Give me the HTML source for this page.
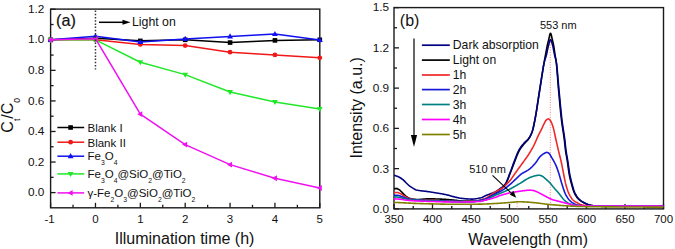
<!DOCTYPE html>
<html><head><meta charset="utf-8"><style>
html,body{margin:0;padding:0;background:#fff;}
svg{display:block;}
text{font-family:"Liberation Sans", sans-serif;fill:#111;}
.b{stroke:#111;stroke-width:0.2px;}
</style></head><body>
<svg width="675" height="249" viewBox="0 0 675 249">
<rect width="675" height="249" fill="#fff"/>
<rect x="50.6" y="9.1" width="269.20" height="198.70" fill="none" stroke="#1a1a1a" stroke-width="1.4"/>
<rect x="394.0" y="7.6" width="269.50" height="201.30" fill="none" stroke="#1a1a1a" stroke-width="1.4"/>
<line x1="50.60" y1="207.8" x2="50.60" y2="202.8" stroke="#1a1a1a" stroke-width="1.3"/>
<text x="49.60" y="222.60" font-size="11.5" text-anchor="middle" >-1</text>
<line x1="95.47" y1="207.8" x2="95.47" y2="202.8" stroke="#1a1a1a" stroke-width="1.3"/>
<text x="95.47" y="222.60" font-size="11.5" text-anchor="middle" >0</text>
<line x1="140.33" y1="207.8" x2="140.33" y2="202.8" stroke="#1a1a1a" stroke-width="1.3"/>
<text x="140.33" y="222.60" font-size="11.5" text-anchor="middle" >1</text>
<line x1="185.20" y1="207.8" x2="185.20" y2="202.8" stroke="#1a1a1a" stroke-width="1.3"/>
<text x="185.20" y="222.60" font-size="11.5" text-anchor="middle" >2</text>
<line x1="230.07" y1="207.8" x2="230.07" y2="202.8" stroke="#1a1a1a" stroke-width="1.3"/>
<text x="230.07" y="222.60" font-size="11.5" text-anchor="middle" >3</text>
<line x1="274.93" y1="207.8" x2="274.93" y2="202.8" stroke="#1a1a1a" stroke-width="1.3"/>
<text x="274.93" y="222.60" font-size="11.5" text-anchor="middle" >4</text>
<line x1="319.80" y1="207.8" x2="319.80" y2="202.8" stroke="#1a1a1a" stroke-width="1.3"/>
<text x="319.80" y="222.60" font-size="11.5" text-anchor="middle" >5</text>
<line x1="73.03" y1="207.8" x2="73.03" y2="204.8" stroke="#1a1a1a" stroke-width="1.3"/>
<line x1="117.90" y1="207.8" x2="117.90" y2="204.8" stroke="#1a1a1a" stroke-width="1.3"/>
<line x1="162.77" y1="207.8" x2="162.77" y2="204.8" stroke="#1a1a1a" stroke-width="1.3"/>
<line x1="207.63" y1="207.8" x2="207.63" y2="204.8" stroke="#1a1a1a" stroke-width="1.3"/>
<line x1="252.50" y1="207.8" x2="252.50" y2="204.8" stroke="#1a1a1a" stroke-width="1.3"/>
<line x1="297.37" y1="207.8" x2="297.37" y2="204.8" stroke="#1a1a1a" stroke-width="1.3"/>
<line x1="50.6" y1="192.60" x2="55.6" y2="192.60" stroke="#1a1a1a" stroke-width="1.3"/>
<text x="44.40" y="196.20" font-size="11.8" text-anchor="end" >0.0</text>
<line x1="50.6" y1="162.04" x2="55.6" y2="162.04" stroke="#1a1a1a" stroke-width="1.3"/>
<text x="44.40" y="165.64" font-size="11.8" text-anchor="end" >0.2</text>
<line x1="50.6" y1="131.48" x2="55.6" y2="131.48" stroke="#1a1a1a" stroke-width="1.3"/>
<text x="44.40" y="135.08" font-size="11.8" text-anchor="end" >0.4</text>
<line x1="50.6" y1="100.92" x2="55.6" y2="100.92" stroke="#1a1a1a" stroke-width="1.3"/>
<text x="44.40" y="104.52" font-size="11.8" text-anchor="end" >0.6</text>
<line x1="50.6" y1="70.36" x2="55.6" y2="70.36" stroke="#1a1a1a" stroke-width="1.3"/>
<text x="44.40" y="73.96" font-size="11.8" text-anchor="end" >0.8</text>
<line x1="50.6" y1="39.80" x2="55.6" y2="39.80" stroke="#1a1a1a" stroke-width="1.3"/>
<text x="44.40" y="43.40" font-size="11.8" text-anchor="end" >1.0</text>
<line x1="50.6" y1="9.24" x2="55.6" y2="9.24" stroke="#1a1a1a" stroke-width="1.3"/>
<text x="44.40" y="12.84" font-size="11.8" text-anchor="end" >1.2</text>
<line x1="50.6" y1="177.32" x2="53.6" y2="177.32" stroke="#1a1a1a" stroke-width="1.3"/>
<line x1="50.6" y1="146.76" x2="53.6" y2="146.76" stroke="#1a1a1a" stroke-width="1.3"/>
<line x1="50.6" y1="116.20" x2="53.6" y2="116.20" stroke="#1a1a1a" stroke-width="1.3"/>
<line x1="50.6" y1="85.64" x2="53.6" y2="85.64" stroke="#1a1a1a" stroke-width="1.3"/>
<line x1="50.6" y1="55.08" x2="53.6" y2="55.08" stroke="#1a1a1a" stroke-width="1.3"/>
<line x1="50.6" y1="24.52" x2="53.6" y2="24.52" stroke="#1a1a1a" stroke-width="1.3"/>
<line x1="394.00" y1="208.9" x2="394.00" y2="203.9" stroke="#1a1a1a" stroke-width="1.3"/>
<text x="394.00" y="222.60" font-size="11.5" text-anchor="middle" >350</text>
<line x1="432.50" y1="208.9" x2="432.50" y2="203.9" stroke="#1a1a1a" stroke-width="1.3"/>
<text x="432.50" y="222.60" font-size="11.5" text-anchor="middle" >400</text>
<line x1="471.00" y1="208.9" x2="471.00" y2="203.9" stroke="#1a1a1a" stroke-width="1.3"/>
<text x="471.00" y="222.60" font-size="11.5" text-anchor="middle" >450</text>
<line x1="509.50" y1="208.9" x2="509.50" y2="203.9" stroke="#1a1a1a" stroke-width="1.3"/>
<text x="509.50" y="222.60" font-size="11.5" text-anchor="middle" >500</text>
<line x1="548.00" y1="208.9" x2="548.00" y2="203.9" stroke="#1a1a1a" stroke-width="1.3"/>
<text x="548.00" y="222.60" font-size="11.5" text-anchor="middle" >550</text>
<line x1="586.50" y1="208.9" x2="586.50" y2="203.9" stroke="#1a1a1a" stroke-width="1.3"/>
<text x="586.50" y="222.60" font-size="11.5" text-anchor="middle" >600</text>
<line x1="625.00" y1="208.9" x2="625.00" y2="203.9" stroke="#1a1a1a" stroke-width="1.3"/>
<text x="625.00" y="222.60" font-size="11.5" text-anchor="middle" >650</text>
<line x1="663.50" y1="208.9" x2="663.50" y2="203.9" stroke="#1a1a1a" stroke-width="1.3"/>
<text x="663.50" y="222.60" font-size="11.5" text-anchor="middle" >700</text>
<line x1="413.25" y1="208.9" x2="413.25" y2="205.9" stroke="#1a1a1a" stroke-width="1.3"/>
<line x1="451.75" y1="208.9" x2="451.75" y2="205.9" stroke="#1a1a1a" stroke-width="1.3"/>
<line x1="490.25" y1="208.9" x2="490.25" y2="205.9" stroke="#1a1a1a" stroke-width="1.3"/>
<line x1="528.75" y1="208.9" x2="528.75" y2="205.9" stroke="#1a1a1a" stroke-width="1.3"/>
<line x1="567.25" y1="208.9" x2="567.25" y2="205.9" stroke="#1a1a1a" stroke-width="1.3"/>
<line x1="605.75" y1="208.9" x2="605.75" y2="205.9" stroke="#1a1a1a" stroke-width="1.3"/>
<line x1="644.25" y1="208.9" x2="644.25" y2="205.9" stroke="#1a1a1a" stroke-width="1.3"/>
<line x1="394.0" y1="208.90" x2="399.0" y2="208.90" stroke="#1a1a1a" stroke-width="1.3"/>
<text x="389.20" y="213.00" font-size="11.8" text-anchor="end" >0.0</text>
<line x1="394.0" y1="168.64" x2="399.0" y2="168.64" stroke="#1a1a1a" stroke-width="1.3"/>
<text x="389.20" y="172.74" font-size="11.8" text-anchor="end" >0.3</text>
<line x1="394.0" y1="128.38" x2="399.0" y2="128.38" stroke="#1a1a1a" stroke-width="1.3"/>
<text x="389.20" y="132.48" font-size="11.8" text-anchor="end" >0.6</text>
<line x1="394.0" y1="88.12" x2="399.0" y2="88.12" stroke="#1a1a1a" stroke-width="1.3"/>
<text x="389.20" y="92.22" font-size="11.8" text-anchor="end" >0.9</text>
<line x1="394.0" y1="47.86" x2="399.0" y2="47.86" stroke="#1a1a1a" stroke-width="1.3"/>
<text x="389.20" y="51.96" font-size="11.8" text-anchor="end" >1.2</text>
<line x1="394.0" y1="7.60" x2="399.0" y2="7.60" stroke="#1a1a1a" stroke-width="1.3"/>
<text x="389.20" y="10.60" font-size="11.8" text-anchor="end" >1.5</text>
<line x1="394.0" y1="188.77" x2="397.0" y2="188.77" stroke="#1a1a1a" stroke-width="1.3"/>
<line x1="394.0" y1="148.51" x2="397.0" y2="148.51" stroke="#1a1a1a" stroke-width="1.3"/>
<line x1="394.0" y1="108.25" x2="397.0" y2="108.25" stroke="#1a1a1a" stroke-width="1.3"/>
<line x1="394.0" y1="67.99" x2="397.0" y2="67.99" stroke="#1a1a1a" stroke-width="1.3"/>
<line x1="394.0" y1="27.73" x2="397.0" y2="27.73" stroke="#1a1a1a" stroke-width="1.3"/>
<text x="184.60" y="243.80" font-size="16" text-anchor="middle" >Illumination time (h)</text>
<text x="528.20" y="244.80" font-size="15.8" text-anchor="middle" >Wavelength (nm)</text>
<text transform="translate(362.4,107.8) rotate(-90)" font-size="16" text-anchor="middle">Intensity (a.u.)</text>
<text transform="translate(13.2,115.3) rotate(-90)" font-size="16" text-anchor="middle">C<tspan font-size="8.5" dy="6.6">t</tspan><tspan dy="-6.6">/C</tspan><tspan font-size="8.5" dy="6.6">0</tspan></text>
<text x="56.10" y="26.40" font-size="16.2" text-anchor="start" class="b">(a)</text>
<text x="399.80" y="26.20" font-size="16" text-anchor="start" >(b)</text>
<clipPath id="cl"><rect x="50.6" y="9.1" width="269.2" height="198.70000000000002"/></clipPath>
<polyline points="50.60,39.80 95.47,38.27 140.33,40.87 185.20,39.80 230.07,42.55 274.93,40.41 319.80,39.80" fill="none" stroke="#000000" stroke-width="1.5" stroke-linejoin="round"/>
<rect x="48.30" y="37.50" width="4.60" height="4.60" fill="#000000"/>
<rect x="93.17" y="35.97" width="4.60" height="4.60" fill="#000000"/>
<rect x="138.03" y="38.57" width="4.60" height="4.60" fill="#000000"/>
<rect x="182.90" y="37.50" width="4.60" height="4.60" fill="#000000"/>
<rect x="227.77" y="40.25" width="4.60" height="4.60" fill="#000000"/>
<rect x="272.63" y="38.11" width="4.60" height="4.60" fill="#000000"/>
<rect x="317.50" y="37.50" width="4.60" height="4.60" fill="#000000"/>
<polyline points="50.60,39.80 95.47,39.80 140.33,44.38 185.20,45.61 230.07,52.18 274.93,54.93 319.80,57.83" fill="none" stroke="#f01818" stroke-width="1.5" stroke-linejoin="round"/>
<circle cx="50.60" cy="39.80" r="2.40" fill="#f01818"/>
<circle cx="95.47" cy="39.80" r="2.40" fill="#f01818"/>
<circle cx="140.33" cy="44.38" r="2.40" fill="#f01818"/>
<circle cx="185.20" cy="45.61" r="2.40" fill="#f01818"/>
<circle cx="230.07" cy="52.18" r="2.40" fill="#f01818"/>
<circle cx="274.93" cy="54.93" r="2.40" fill="#f01818"/>
<circle cx="319.80" cy="57.83" r="2.40" fill="#f01818"/>
<polyline points="50.60,39.80 95.47,36.29 140.33,42.09 185.20,38.88 230.07,36.44 274.93,33.99 319.80,40.11" fill="none" stroke="#1010f0" stroke-width="1.5" stroke-linejoin="round"/>
<path d="M50.60,36.70 L53.50,41.80 L47.70,41.80Z" fill="#1010f0"/>
<path d="M95.47,33.19 L98.37,38.29 L92.57,38.29Z" fill="#1010f0"/>
<path d="M140.33,38.99 L143.23,44.09 L137.43,44.09Z" fill="#1010f0"/>
<path d="M185.20,35.78 L188.10,40.88 L182.30,40.88Z" fill="#1010f0"/>
<path d="M230.07,33.34 L232.97,38.44 L227.17,38.44Z" fill="#1010f0"/>
<path d="M274.93,30.89 L277.83,35.99 L272.03,35.99Z" fill="#1010f0"/>
<path d="M319.80,37.01 L322.70,42.11 L316.90,42.11Z" fill="#1010f0"/>
<polyline points="50.60,39.80 95.47,39.80 140.33,62.26 185.20,74.64 230.07,92.06 274.93,101.99 319.80,109.02" fill="none" stroke="#20e828" stroke-width="1.5" stroke-linejoin="round"/>
<path d="M50.60,42.90 L53.50,37.80 L47.70,37.80Z" fill="#20e828"/>
<path d="M95.47,42.90 L98.37,37.80 L92.57,37.80Z" fill="#20e828"/>
<path d="M140.33,65.36 L143.23,60.26 L137.43,60.26Z" fill="#20e828"/>
<path d="M185.20,77.74 L188.10,72.64 L182.30,72.64Z" fill="#20e828"/>
<path d="M230.07,95.16 L232.97,90.06 L227.17,90.06Z" fill="#20e828"/>
<path d="M274.93,105.09 L277.83,99.99 L272.03,99.99Z" fill="#20e828"/>
<path d="M319.80,112.12 L322.70,107.02 L316.90,107.02Z" fill="#20e828"/>
<polyline points="50.60,39.80 95.47,38.73 140.33,114.21 185.20,144.62 230.07,164.64 274.93,178.24 319.80,188.02" fill="none" stroke="#f010f0" stroke-width="1.5" stroke-linejoin="round"/>
<path d="M47.50,39.80 L52.60,36.90 L52.60,42.70Z" fill="#f010f0"/>
<path d="M92.37,38.73 L97.47,35.83 L97.47,41.63Z" fill="#f010f0"/>
<path d="M137.23,114.21 L142.33,111.31 L142.33,117.11Z" fill="#f010f0"/>
<path d="M182.10,144.62 L187.20,141.72 L187.20,147.52Z" fill="#f010f0"/>
<path d="M226.97,164.64 L232.07,161.74 L232.07,167.54Z" fill="#f010f0"/>
<path d="M271.83,178.24 L276.93,175.34 L276.93,181.14Z" fill="#f010f0"/>
<path d="M316.70,188.02 L321.80,185.12 L321.80,190.92Z" fill="#f010f0"/>
<line x1="95.47" y1="10.6" x2="95.47" y2="69.5" stroke="#333" stroke-width="1.5" stroke-dasharray="1.5 1.7"/>
<line x1="99" y1="22.3" x2="124" y2="22.3" stroke="#000" stroke-width="1.5"/>
<path d="M130.5,22.3 L122.5,19.8 L122.5,24.8Z" fill="#000"/>
<text x="132.00" y="25.60" font-size="12.3" text-anchor="start" >Light on</text>
<line x1="57.4" y1="127.5" x2="84.2" y2="127.5" stroke="#000000" stroke-width="1.5"/>
<rect x="68.30" y="125.20" width="4.60" height="4.60" fill="#000000"/>
<line x1="57.4" y1="142.2" x2="84.2" y2="142.2" stroke="#f01818" stroke-width="1.5"/>
<circle cx="70.60" cy="142.20" r="2.40" fill="#f01818"/>
<line x1="57.4" y1="156.2" x2="84.2" y2="156.2" stroke="#1010f0" stroke-width="1.5"/>
<path d="M70.60,153.10 L73.50,158.20 L67.70,158.20Z" fill="#1010f0"/>
<line x1="57.4" y1="173.9" x2="84.2" y2="173.9" stroke="#20e828" stroke-width="1.5"/>
<path d="M70.60,177.00 L73.50,171.90 L67.70,171.90Z" fill="#20e828"/>
<line x1="57.4" y1="192.9" x2="84.2" y2="192.9" stroke="#f010f0" stroke-width="1.5"/>
<path d="M67.50,192.90 L72.60,190.00 L72.60,195.80Z" fill="#f010f0"/>
<text x="87.50" y="131.90" font-size="11.5" text-anchor="start" >Blank I</text>
<text x="87.50" y="146.60" font-size="11.5" text-anchor="start" >Blank II</text>
<text x="87.5" y="160.4" font-size="11.5">Fe<tspan font-size="6.8" dy="4.6">3</tspan><tspan dy="-4.6">O</tspan><tspan font-size="6.8" dy="4.6">4</tspan></text>
<text x="87.5" y="178.1" font-size="11.5">Fe<tspan font-size="6.8" dy="4.6">3</tspan><tspan dy="-4.6">O</tspan><tspan font-size="6.8" dy="4.6">4</tspan><tspan dy="-4.6">@SiO</tspan><tspan font-size="6.8" dy="4.6">2</tspan><tspan dy="-4.6">@TiO</tspan><tspan font-size="6.8" dy="4.6">2</tspan></text>
<text x="87.5" y="197.1" font-size="11.5">γ-Fe<tspan font-size="6.8" dy="4.6">2</tspan><tspan dy="-4.6">O</tspan><tspan font-size="6.8" dy="4.6">3</tspan><tspan dy="-4.6">@SiO</tspan><tspan font-size="6.8" dy="4.6">2</tspan><tspan dy="-4.6">@TiO</tspan><tspan font-size="6.8" dy="4.6">2</tspan></text>
<clipPath id="cr"><rect x="394.0" y="7.6" width="269.5" height="201.3"/></clipPath>
<g clip-path="url(#cr)">
<line x1="550.31" y1="34.44" x2="550.31" y2="208.9" stroke="#ff7070" stroke-width="0.9" stroke-dasharray="1 1.5"/>
<line x1="517.20" y1="200.85" x2="517.20" y2="208.9" stroke="#ff7070" stroke-width="0.9" stroke-dasharray="1 1.5"/>
<path d="M394.00,188.82 L394.77,188.57 L395.54,188.45 L396.31,188.42 L397.08,188.56 L397.85,188.91 L398.62,189.39 L399.39,189.89 L400.16,190.48 L400.93,191.23 L401.70,192.04 L402.47,192.83 L403.24,193.61 L404.01,194.43 L404.78,195.21 L405.55,195.89 L406.32,196.49 L407.09,197.05 L407.86,197.53 L408.63,197.90 L409.40,198.17 L410.17,198.42 L410.94,198.63 L411.71,198.81 L412.48,198.97 L413.25,199.10 L414.02,199.21 L414.79,199.32 L415.56,199.41 L416.33,199.47 L417.10,199.50 L417.87,199.49 L418.64,199.46 L419.41,199.43 L420.18,199.38 L420.95,199.32 L421.72,199.26 L422.49,199.20 L423.26,199.13 L424.03,199.06 L424.80,199.00 L425.57,198.95 L426.34,198.90 L427.11,198.86 L427.88,198.84 L428.65,198.83 L429.42,198.83 L430.19,198.84 L430.96,198.84 L431.73,198.85 L432.50,198.87 L433.27,198.88 L434.04,198.90 L434.81,198.92 L435.58,198.94 L436.35,198.97 L437.12,198.99 L437.89,199.02 L438.66,199.04 L439.43,199.07 L440.20,199.10 L440.97,199.13 L441.74,199.16 L442.51,199.20 L443.28,199.25 L444.05,199.29 L444.82,199.35 L445.59,199.40 L446.36,199.46 L447.13,199.52 L447.90,199.58 L448.67,199.65 L449.44,199.71 L450.21,199.77 L450.98,199.83 L451.75,199.90 L452.52,199.96 L453.29,200.04 L454.06,200.12 L454.83,200.21 L455.60,200.31 L456.37,200.40 L457.14,200.50 L457.91,200.59 L458.68,200.68 L459.45,200.75 L460.22,200.82 L460.99,200.88 L461.76,200.93 L462.53,200.95 L463.30,200.96 L464.07,200.96 L464.84,200.96 L465.61,200.96 L466.38,200.96 L467.15,200.96 L467.92,200.96 L468.69,200.96 L469.46,200.96 L470.23,200.96 L471.00,200.96 L471.77,200.96 L472.54,200.96 L473.31,200.96 L474.08,200.96 L474.85,200.96 L475.62,200.94 L476.39,200.88 L477.16,200.79 L477.93,200.67 L478.70,200.53 L479.47,200.37 L480.24,200.19 L481.01,200.01 L481.78,199.82 L482.55,199.63 L483.32,199.43 L484.09,199.20 L484.86,198.94 L485.63,198.66 L486.40,198.35 L487.17,198.02 L487.94,197.68 L488.71,197.32 L489.48,196.95 L490.25,196.56 L491.02,196.15 L491.79,195.70 L492.56,195.22 L493.33,194.71 L494.10,194.17 L494.87,193.61 L495.64,193.03 L496.41,192.44 L497.18,191.83 L497.95,191.22 L498.72,190.63 L499.49,190.04 L500.26,189.45 L501.03,188.84 L501.80,188.19 L502.19,187.85 L502.57,187.50 L502.95,187.13 L503.34,186.74 L503.73,186.33 L504.11,185.90 L504.50,185.44 L504.88,184.96 L505.26,184.45 L505.65,183.87 L506.03,183.19 L506.42,182.45 L506.81,181.63 L507.19,180.76 L507.57,179.84 L507.96,178.89 L508.35,177.91 L508.73,176.91 L509.12,175.90 L509.50,174.89 L509.88,173.90 L510.27,172.93 L510.65,171.98 L511.04,171.00 L511.43,170.00 L511.81,168.99 L512.19,167.96 L512.58,166.92 L512.97,165.89 L513.35,164.86 L513.74,163.85 L514.12,162.85 L514.50,161.88 L514.89,160.91 L515.27,159.92 L515.66,158.92 L516.04,157.92 L516.43,156.93 L516.82,155.95 L517.20,155.00 L517.59,154.07 L517.97,153.18 L518.36,152.34 L518.74,151.54 L519.12,150.81 L519.51,150.14 L519.89,149.51 L520.28,148.91 L520.66,148.33 L521.05,147.78 L521.43,147.25 L521.82,146.74 L522.21,146.25 L522.59,145.76 L522.98,145.28 L523.36,144.81 L523.75,144.34 L524.13,143.87 L524.51,143.41 L524.90,142.98 L525.28,142.58 L525.67,142.19 L526.06,141.80 L526.44,141.42 L526.83,141.04 L527.21,140.63 L527.60,140.21 L527.98,139.76 L528.37,139.28 L528.75,138.76 L529.13,138.18 L529.52,137.57 L529.90,136.91 L530.29,136.20 L530.67,135.42 L531.06,134.59 L531.44,133.68 L531.83,132.70 L532.22,131.64 L532.60,130.39 L532.99,128.94 L533.37,127.32 L533.75,125.56 L534.14,123.71 L534.52,121.80 L534.91,119.86 L535.29,117.84 L535.68,115.68 L536.07,113.40 L536.45,111.02 L536.84,108.57 L537.22,106.05 L537.61,103.49 L537.99,100.92 L538.38,98.34 L538.76,95.78 L539.14,93.26 L539.53,90.80 L539.91,88.40 L540.30,85.99 L540.68,83.57 L541.07,81.15 L541.46,78.72 L541.84,76.30 L542.23,73.90 L542.61,71.51 L543.00,69.15 L543.38,66.83 L543.76,64.54 L544.15,62.29 L544.53,60.09 L544.92,58.00 L545.31,55.96 L545.69,53.85 L546.08,51.71 L546.46,49.59 L546.85,47.56 L547.23,45.69 L547.62,43.97 L548.00,42.37 L548.38,40.84 L548.77,39.33 L549.15,37.57 L549.54,35.80 L549.92,34.30 L550.31,33.41 L550.69,33.40 L551.08,34.29 L551.47,35.77 L551.85,37.54 L552.24,39.31 L552.62,40.86 L553.00,42.44 L553.39,44.15 L553.77,46.10 L554.16,48.52 L554.54,51.26 L554.93,53.99 L555.32,56.39 L555.70,58.31 L556.09,60.65 L556.47,64.02 L556.86,68.23 L557.24,72.98 L557.62,78.02 L558.01,83.07 L558.39,87.87 L558.78,92.20 L559.16,96.45 L559.55,100.69 L559.93,104.87 L560.32,108.94 L560.71,112.83 L561.09,116.49 L561.48,119.86 L561.86,122.89 L562.25,125.63 L562.63,128.19 L563.01,130.66 L563.40,133.13 L563.78,135.70 L564.17,138.47 L564.56,141.58 L564.94,145.22 L565.33,148.78 L565.71,151.63 L566.10,154.04 L566.48,156.23 L566.87,158.38 L567.25,160.64 L567.63,163.18 L568.02,166.02 L568.40,168.92 L568.79,171.67 L569.17,174.02 L569.56,175.99 L569.94,177.81 L570.33,179.47 L570.72,181.03 L571.10,182.49 L571.49,183.90 L571.87,185.28 L572.25,186.64 L572.64,187.95 L573.02,189.21 L573.41,190.40 L573.79,191.49 L574.18,192.48 L574.57,193.34 L574.95,194.09 L575.34,194.79 L575.72,195.45 L576.11,196.07 L576.49,196.65 L576.88,197.18 L577.26,197.68 L577.64,198.14 L578.03,198.57 L578.41,198.96 L578.80,199.33 L579.18,199.68 L579.57,200.01 L579.96,200.33 L580.34,200.62 L580.73,200.91 L581.11,201.18 L581.50,201.43 L581.88,201.68 L582.26,201.91 L582.65,202.13 L583.03,202.35 L583.42,202.55 L583.81,202.76 L584.19,202.95 L584.58,203.15 L584.96,203.34 L585.35,203.52 L585.73,203.69 L586.12,203.86 L586.50,204.02 L588.04,204.58 L589.58,204.98 L591.12,205.31 L592.66,205.58 L594.20,205.74 L595.74,205.80 L597.28,205.85 L598.82,205.89 L600.36,205.93 L601.90,205.95 L603.44,205.98 L604.98,206.00 L606.52,206.01 L608.06,206.02 L609.60,206.03 L611.14,206.04 L612.68,206.05 L614.22,206.05 L615.76,206.06 L617.30,206.07 L618.84,206.07 L620.38,206.08 L621.92,206.09 L623.46,206.09 L625.00,206.10 L626.54,206.10 L628.08,206.11 L629.62,206.11 L631.16,206.12 L632.70,206.12 L634.24,206.13 L635.78,206.13 L637.32,206.14 L638.86,206.14 L640.40,206.14 L641.94,206.15 L643.48,206.15 L645.02,206.15 L646.56,206.15 L648.10,206.16 L649.64,206.16 L651.18,206.16 L652.72,206.16 L654.26,206.16 L655.80,206.16 L657.34,206.16 L658.88,206.16 L660.42,206.17 L661.96,206.17 L663.50,206.17" fill="none" stroke="#000000" stroke-width="1.6" stroke-linejoin="round"/>
<path d="M394.00,175.22 L394.77,175.42 L395.54,175.66 L396.31,175.93 L397.08,176.22 L397.85,176.54 L398.62,176.91 L399.39,177.31 L400.16,177.75 L400.93,178.22 L401.70,178.76 L402.47,179.34 L403.24,179.96 L404.01,180.63 L404.78,181.39 L405.55,182.21 L406.32,183.02 L407.09,183.76 L407.86,184.48 L408.63,185.16 L409.40,185.81 L410.17,186.40 L410.94,186.95 L411.71,187.45 L412.48,187.93 L413.25,188.38 L414.02,188.83 L414.79,189.28 L415.56,189.68 L416.33,189.98 L417.10,190.17 L417.87,190.33 L418.64,190.46 L419.41,190.57 L420.18,190.68 L420.95,190.77 L421.72,190.87 L422.49,190.96 L423.26,191.05 L424.03,191.13 L424.80,191.21 L425.57,191.29 L426.34,191.39 L427.11,191.49 L427.88,191.60 L428.65,191.71 L429.42,191.82 L430.19,191.94 L430.96,192.06 L431.73,192.19 L432.50,192.31 L433.27,192.43 L434.04,192.56 L434.81,192.68 L435.58,192.81 L436.35,192.93 L437.12,193.05 L437.89,193.18 L438.66,193.31 L439.43,193.43 L440.20,193.56 L440.97,193.70 L441.74,193.83 L442.51,193.97 L443.28,194.12 L444.05,194.27 L444.82,194.42 L445.59,194.58 L446.36,194.74 L447.13,194.93 L447.90,195.13 L448.67,195.34 L449.44,195.56 L450.21,195.78 L450.98,196.01 L451.75,196.23 L452.52,196.44 L453.29,196.64 L454.06,196.83 L454.83,197.01 L455.60,197.19 L456.37,197.37 L457.14,197.55 L457.91,197.72 L458.68,197.88 L459.45,198.04 L460.22,198.17 L460.99,198.29 L461.76,198.39 L462.53,198.48 L463.30,198.56 L464.07,198.63 L464.84,198.71 L465.61,198.78 L466.38,198.85 L467.15,198.91 L467.92,198.96 L468.69,199.01 L469.46,199.04 L470.23,199.07 L471.00,199.09 L471.77,199.10 L472.54,199.08 L473.31,199.05 L474.08,198.99 L474.85,198.91 L475.62,198.81 L476.39,198.69 L477.16,198.56 L477.93,198.42 L478.70,198.26 L479.47,198.09 L480.24,197.91 L481.01,197.72 L481.78,197.51 L482.55,197.20 L483.32,196.81 L484.09,196.39 L484.86,196.00 L485.63,195.66 L486.40,195.35 L487.17,195.04 L487.94,194.74 L488.71,194.44 L489.48,194.14 L490.25,193.83 L491.02,193.54 L491.79,193.25 L492.56,192.97 L493.33,192.67 L494.10,192.36 L494.87,192.01 L495.64,191.61 L496.41,191.16 L497.18,190.67 L497.95,190.14 L498.72,189.59 L499.49,189.02 L500.26,188.44 L501.03,187.88 L501.80,187.32 L502.19,187.04 L502.57,186.74 L502.95,186.43 L503.34,186.10 L503.73,185.75 L504.11,185.37 L504.50,184.97 L504.88,184.53 L505.26,184.06 L505.65,183.49 L506.03,182.84 L506.42,182.09 L506.81,181.27 L507.19,180.38 L507.57,179.44 L507.96,178.46 L508.35,177.44 L508.73,176.40 L509.12,175.36 L509.50,174.31 L509.88,173.28 L510.27,172.28 L510.65,171.29 L511.04,170.27 L511.43,169.21 L511.81,168.14 L512.19,167.05 L512.58,165.95 L512.97,164.86 L513.35,163.77 L513.74,162.71 L514.12,161.67 L514.50,160.68 L514.89,159.69 L515.27,158.70 L515.66,157.70 L516.04,156.71 L516.43,155.72 L516.82,154.76 L517.20,153.82 L517.59,152.91 L517.97,152.04 L518.36,151.22 L518.74,150.45 L519.12,149.74 L519.51,149.09 L519.89,148.47 L520.28,147.89 L520.66,147.33 L521.05,146.80 L521.43,146.29 L521.82,145.80 L522.21,145.32 L522.59,144.86 L522.98,144.41 L523.36,143.96 L523.75,143.51 L524.13,143.07 L524.51,142.64 L524.90,142.24 L525.28,141.86 L525.67,141.51 L526.06,141.15 L526.44,140.81 L526.83,140.45 L527.21,140.08 L527.60,139.70 L527.98,139.28 L528.37,138.83 L528.75,138.34 L529.13,137.80 L529.52,137.22 L529.90,136.59 L530.29,135.91 L530.67,135.17 L531.06,134.37 L531.44,133.49 L531.83,132.54 L532.22,131.51 L532.60,130.29 L532.99,128.86 L533.37,127.25 L533.75,125.51 L534.14,123.68 L534.52,121.78 L534.91,119.86 L535.29,117.86 L535.68,115.73 L536.07,113.48 L536.45,111.13 L536.84,108.70 L537.22,106.21 L537.61,103.69 L537.99,101.15 L538.38,98.61 L538.76,96.09 L539.14,93.61 L539.53,91.19 L539.91,88.81 L540.30,86.36 L540.68,83.85 L541.07,81.29 L541.46,78.73 L541.84,76.18 L542.23,73.68 L542.61,71.25 L543.00,68.92 L543.38,66.72 L543.76,64.67 L544.15,62.81 L544.53,61.16 L544.92,59.78 L545.31,58.61 L545.69,57.48 L546.08,56.24 L546.46,54.73 L546.85,53.00 L547.23,51.16 L547.62,49.30 L548.00,47.54 L548.38,45.97 L548.77,44.51 L549.15,42.96 L549.54,41.50 L549.92,40.33 L550.31,39.64 L550.69,39.63 L551.08,40.20 L551.47,41.21 L551.85,42.51 L552.24,43.95 L552.62,45.41 L553.00,46.93 L553.39,48.80 L553.77,50.86 L554.16,52.96 L554.54,54.92 L554.93,56.57 L555.32,57.89 L555.70,59.17 L556.09,60.77 L556.47,63.09 L556.86,66.30 L557.24,70.18 L557.62,74.52 L558.01,79.10 L558.39,83.68 L558.78,88.07 L559.16,92.09 L559.55,96.11 L559.93,100.19 L560.32,104.27 L560.71,108.28 L561.09,112.15 L561.48,115.82 L561.86,119.22 L562.25,122.28 L562.63,125.06 L563.01,127.65 L563.40,130.13 L563.78,132.61 L564.17,135.16 L564.56,137.89 L564.94,140.90 L565.33,144.48 L565.71,148.12 L566.10,151.10 L566.48,153.59 L566.87,155.83 L567.25,157.98 L567.63,160.19 L568.02,162.61 L568.40,165.29 L568.79,168.06 L569.17,170.75 L569.56,173.16 L569.94,175.21 L570.33,177.07 L570.72,178.79 L571.10,180.40 L571.49,181.91 L571.87,183.34 L572.25,184.73 L572.64,186.10 L573.02,187.43 L573.41,188.72 L573.79,189.93 L574.18,191.07 L574.57,192.10 L574.95,193.01 L575.34,193.79 L575.72,194.52 L576.11,195.19 L576.49,195.83 L576.88,196.42 L577.26,196.97 L577.64,197.48 L578.03,197.96 L578.41,198.40 L578.80,198.81 L579.18,199.19 L579.57,199.54 L579.96,199.88 L580.34,200.20 L580.73,200.51 L581.11,200.80 L581.50,201.07 L581.88,201.33 L582.26,201.58 L582.65,201.82 L583.03,202.05 L583.42,202.26 L583.81,202.47 L584.19,202.67 L584.58,202.87 L584.96,203.07 L585.35,203.26 L585.73,203.44 L586.12,203.62 L586.50,203.79 L588.04,204.40 L589.58,204.85 L591.12,205.21 L592.66,205.51 L594.20,205.72 L595.74,205.79 L597.28,205.84 L598.82,205.89 L600.36,205.92 L601.90,205.95 L603.44,205.98 L604.98,206.00 L606.52,206.01 L608.06,206.02 L609.60,206.03 L611.14,206.04 L612.68,206.05 L614.22,206.05 L615.76,206.06 L617.30,206.07 L618.84,206.08 L620.38,206.08 L621.92,206.09 L623.46,206.09 L625.00,206.10 L626.54,206.10 L628.08,206.11 L629.62,206.11 L631.16,206.12 L632.70,206.12 L634.24,206.13 L635.78,206.13 L637.32,206.14 L638.86,206.14 L640.40,206.14 L641.94,206.15 L643.48,206.15 L645.02,206.15 L646.56,206.15 L648.10,206.16 L649.64,206.16 L651.18,206.16 L652.72,206.16 L654.26,206.16 L655.80,206.16 L657.34,206.16 L658.88,206.16 L660.42,206.17 L661.96,206.17 L663.50,206.17" fill="none" stroke="#000080" stroke-width="1.6" stroke-linejoin="round"/>
<path d="M394.00,192.83 L394.77,192.60 L395.54,192.48 L396.31,192.43 L397.08,192.43 L397.85,192.53 L398.62,192.79 L399.39,193.14 L400.16,193.49 L400.93,193.89 L401.70,194.37 L402.47,194.90 L403.24,195.42 L404.01,195.89 L404.78,196.34 L405.55,196.78 L406.32,197.20 L407.09,197.58 L407.86,197.90 L408.63,198.17 L409.40,198.42 L410.17,198.66 L410.94,198.87 L411.71,199.06 L412.48,199.23 L413.25,199.36 L414.02,199.48 L414.79,199.58 L415.56,199.68 L416.33,199.78 L417.10,199.86 L417.87,199.94 L418.64,200.00 L419.41,200.06 L420.18,200.12 L420.95,200.16 L421.72,200.20 L422.49,200.24 L423.26,200.27 L424.03,200.30 L424.80,200.33 L425.57,200.36 L426.34,200.39 L427.11,200.41 L427.88,200.43 L428.65,200.45 L429.42,200.48 L430.19,200.50 L430.96,200.52 L431.73,200.54 L432.50,200.56 L433.27,200.59 L434.04,200.61 L434.81,200.63 L435.58,200.65 L436.35,200.67 L437.12,200.69 L437.89,200.70 L438.66,200.72 L439.43,200.74 L440.20,200.76 L440.97,200.78 L441.74,200.79 L442.51,200.81 L443.28,200.83 L444.05,200.85 L444.82,200.87 L445.59,200.89 L446.36,200.92 L447.13,200.94 L447.90,200.96 L448.67,200.99 L449.44,201.02 L450.21,201.06 L450.98,201.10 L451.75,201.14 L452.52,201.18 L453.29,201.23 L454.06,201.27 L454.83,201.31 L455.60,201.36 L456.37,201.40 L457.14,201.44 L457.91,201.48 L458.68,201.52 L459.45,201.55 L460.22,201.58 L460.99,201.60 L461.76,201.62 L462.53,201.63 L463.30,201.63 L464.07,201.63 L464.84,201.62 L465.61,201.61 L466.38,201.60 L467.15,201.58 L467.92,201.56 L468.69,201.53 L469.46,201.51 L470.23,201.47 L471.00,201.44 L471.77,201.40 L472.54,201.36 L473.31,201.32 L474.08,201.28 L474.85,201.23 L475.62,201.16 L476.39,201.07 L477.16,200.94 L477.93,200.78 L478.70,200.60 L479.47,200.40 L480.24,200.18 L481.01,199.94 L481.78,199.68 L482.55,199.42 L483.32,199.14 L484.09,198.85 L484.86,198.56 L485.63,198.23 L486.40,197.84 L487.17,197.40 L487.94,196.92 L488.71,196.40 L489.48,195.85 L490.25,195.30 L491.02,194.74 L491.79,194.19 L492.56,193.66 L493.33,193.15 L494.10,192.68 L494.87,192.23 L495.64,191.80 L496.41,191.38 L497.18,190.97 L497.95,190.55 L498.72,190.14 L499.49,189.71 L500.26,189.26 L501.03,188.80 L501.80,188.31 L502.19,188.05 L502.57,187.78 L502.95,187.51 L503.34,187.22 L503.73,186.92 L504.11,186.59 L504.50,186.24 L504.88,185.88 L505.26,185.50 L505.65,185.12 L506.03,184.73 L506.42,184.33 L506.81,183.94 L507.19,183.55 L507.57,183.15 L507.96,182.75 L508.35,182.34 L508.73,181.93 L509.12,181.50 L509.50,181.06 L509.88,180.62 L510.27,180.15 L510.65,179.67 L511.04,179.18 L511.43,178.66 L511.81,178.13 L512.19,177.59 L512.58,177.04 L512.97,176.48 L513.35,175.92 L513.74,175.35 L514.12,174.78 L514.50,174.21 L514.89,173.65 L515.27,173.09 L515.66,172.53 L516.04,171.99 L516.43,171.45 L516.82,170.92 L517.20,170.39 L517.59,169.85 L517.97,169.32 L518.36,168.79 L518.74,168.27 L519.12,167.74 L519.51,167.21 L519.89,166.68 L520.28,166.16 L520.66,165.63 L521.05,165.10 L521.43,164.57 L521.82,164.04 L522.21,163.50 L522.59,162.97 L522.98,162.44 L523.36,161.91 L523.75,161.39 L524.13,160.87 L524.51,160.35 L524.90,159.83 L525.28,159.30 L525.67,158.77 L526.06,158.24 L526.44,157.70 L526.83,157.15 L527.21,156.59 L527.60,156.02 L527.98,155.44 L528.37,154.85 L528.75,154.25 L529.13,153.64 L529.52,153.03 L529.90,152.40 L530.29,151.77 L530.67,151.13 L531.06,150.48 L531.44,149.81 L531.83,149.14 L532.22,148.45 L532.60,147.76 L532.99,147.05 L533.37,146.32 L533.75,145.59 L534.14,144.82 L534.52,144.02 L534.91,143.19 L535.29,142.33 L535.68,141.46 L536.07,140.58 L536.45,139.70 L536.84,138.81 L537.22,137.94 L537.61,137.07 L537.99,136.23 L538.38,135.41 L538.76,134.62 L539.14,133.86 L539.53,133.12 L539.91,132.39 L540.30,131.66 L540.68,130.93 L541.07,130.17 L541.46,129.38 L541.84,128.56 L542.23,127.71 L542.61,126.86 L543.00,126.01 L543.38,125.19 L543.76,124.42 L544.15,123.68 L544.53,122.91 L544.92,122.15 L545.31,121.42 L545.69,120.76 L546.08,120.23 L546.46,119.86 L546.85,119.58 L547.23,119.32 L547.62,119.12 L548.00,118.97 L548.38,118.92 L548.77,119.02 L549.15,119.27 L549.54,119.63 L549.92,120.06 L550.31,120.52 L550.69,121.07 L551.08,121.76 L551.47,122.58 L551.85,123.52 L552.24,124.55 L552.62,125.64 L553.00,126.79 L553.39,128.10 L553.77,129.63 L554.16,131.32 L554.54,133.12 L554.93,134.96 L555.32,136.79 L555.70,138.53 L556.09,140.22 L556.47,141.93 L556.86,143.63 L557.24,145.34 L557.62,147.02 L558.01,148.69 L558.39,150.33 L558.78,151.91 L559.16,153.44 L559.55,154.95 L559.93,156.46 L560.32,158.00 L560.71,159.59 L561.09,161.26 L561.48,163.04 L561.86,164.93 L562.25,166.89 L562.63,168.90 L563.01,170.90 L563.40,172.87 L563.78,174.78 L564.17,176.75 L564.56,178.72 L564.94,180.62 L565.33,182.38 L565.71,183.91 L566.10,185.32 L566.48,186.68 L566.87,187.97 L567.25,189.21 L567.63,190.36 L568.02,191.45 L568.40,192.44 L568.79,193.35 L569.17,194.16 L569.56,194.90 L569.94,195.62 L570.33,196.30 L570.72,196.94 L571.10,197.55 L571.49,198.12 L571.87,198.65 L572.25,199.15 L572.64,199.60 L573.02,200.00 L573.41,200.36 L573.79,200.68 L574.18,200.97 L574.57,201.24 L574.95,201.49 L575.34,201.72 L575.72,201.93 L576.11,202.14 L576.49,202.34 L576.88,202.54 L577.26,202.75 L577.64,202.96 L578.03,203.18 L578.41,203.40 L578.80,203.62 L579.18,203.83 L579.57,204.04 L579.96,204.23 L580.34,204.40 L580.73,204.55 L581.11,204.68 L581.50,204.78 L581.88,204.88 L582.26,204.97 L582.65,205.06 L583.03,205.15 L583.42,205.23 L583.81,205.30 L584.19,205.37 L584.58,205.43 L584.96,205.49 L585.35,205.53 L585.73,205.58 L586.12,205.61 L586.50,205.63 L588.04,205.71 L589.58,205.77 L591.12,205.83 L592.66,205.88 L594.20,205.92 L595.74,205.96 L597.28,205.99 L598.82,206.01 L600.36,206.02 L601.90,206.03 L603.44,206.04 L604.98,206.05 L606.52,206.05 L608.06,206.06 L609.60,206.07 L611.14,206.07 L612.68,206.08 L614.22,206.08 L615.76,206.09 L617.30,206.09 L618.84,206.10 L620.38,206.10 L621.92,206.11 L623.46,206.11 L625.00,206.12 L626.54,206.12 L628.08,206.13 L629.62,206.13 L631.16,206.13 L632.70,206.14 L634.24,206.14 L635.78,206.14 L637.32,206.14 L638.86,206.15 L640.40,206.15 L641.94,206.15 L643.48,206.15 L645.02,206.16 L646.56,206.16 L648.10,206.16 L649.64,206.16 L651.18,206.16 L652.72,206.16 L654.26,206.16 L655.80,206.16 L657.34,206.16 L658.88,206.17 L660.42,206.17 L661.96,206.17 L663.50,206.17" fill="none" stroke="#f02828" stroke-width="1.6" stroke-linejoin="round"/>
<path d="M394.00,195.23 L394.77,195.23 L395.54,195.25 L396.31,195.28 L397.08,195.32 L397.85,195.36 L398.62,195.47 L399.39,195.69 L400.16,195.97 L400.93,196.28 L401.70,196.56 L402.47,196.84 L403.24,197.15 L404.01,197.47 L404.78,197.78 L405.55,198.06 L406.32,198.30 L407.09,198.49 L407.86,198.68 L408.63,198.85 L409.40,199.02 L410.17,199.17 L410.94,199.31 L411.71,199.43 L412.48,199.54 L413.25,199.63 L414.02,199.71 L414.79,199.78 L415.56,199.85 L416.33,199.92 L417.10,199.98 L417.87,200.03 L418.64,200.09 L419.41,200.14 L420.18,200.19 L420.95,200.23 L421.72,200.27 L422.49,200.31 L423.26,200.35 L424.03,200.39 L424.80,200.43 L425.57,200.47 L426.34,200.50 L427.11,200.54 L427.88,200.57 L428.65,200.60 L429.42,200.63 L430.19,200.67 L430.96,200.70 L431.73,200.73 L432.50,200.75 L433.27,200.78 L434.04,200.81 L434.81,200.84 L435.58,200.86 L436.35,200.89 L437.12,200.91 L437.89,200.94 L438.66,200.96 L439.43,200.99 L440.20,201.01 L440.97,201.03 L441.74,201.06 L442.51,201.08 L443.28,201.10 L444.05,201.12 L444.82,201.14 L445.59,201.17 L446.36,201.19 L447.13,201.21 L447.90,201.23 L448.67,201.25 L449.44,201.27 L450.21,201.30 L450.98,201.32 L451.75,201.34 L452.52,201.37 L453.29,201.39 L454.06,201.42 L454.83,201.44 L455.60,201.46 L456.37,201.49 L457.14,201.51 L457.91,201.53 L458.68,201.56 L459.45,201.58 L460.22,201.60 L460.99,201.62 L461.76,201.64 L462.53,201.66 L463.30,201.67 L464.07,201.69 L464.84,201.70 L465.61,201.72 L466.38,201.73 L467.15,201.74 L467.92,201.75 L468.69,201.75 L469.46,201.76 L470.23,201.76 L471.00,201.76 L471.77,201.75 L472.54,201.72 L473.31,201.67 L474.08,201.59 L474.85,201.50 L475.62,201.39 L476.39,201.27 L477.16,201.13 L477.93,200.98 L478.70,200.82 L479.47,200.64 L480.24,200.46 L481.01,200.27 L481.78,200.07 L482.55,199.87 L483.32,199.66 L484.09,199.44 L484.86,199.23 L485.63,198.98 L486.40,198.68 L487.17,198.33 L487.94,197.95 L488.71,197.53 L489.48,197.09 L490.25,196.64 L491.02,196.18 L491.79,195.72 L492.56,195.28 L493.33,194.86 L494.10,194.46 L494.87,194.07 L495.64,193.69 L496.41,193.31 L497.18,192.94 L497.95,192.56 L498.72,192.18 L499.49,191.79 L500.26,191.39 L501.03,190.98 L501.80,190.55 L502.19,190.33 L502.57,190.10 L502.95,189.86 L503.34,189.62 L503.73,189.38 L504.11,189.12 L504.50,188.85 L504.88,188.58 L505.26,188.30 L505.65,188.01 L506.03,187.72 L506.42,187.42 L506.81,187.11 L507.19,186.80 L507.57,186.49 L507.96,186.17 L508.35,185.85 L508.73,185.53 L509.12,185.20 L509.50,184.88 L509.88,184.55 L510.27,184.22 L510.65,183.89 L511.04,183.55 L511.43,183.21 L511.81,182.86 L512.19,182.50 L512.58,182.14 L512.97,181.78 L513.35,181.41 L513.74,181.04 L514.12,180.68 L514.50,180.31 L514.89,179.94 L515.27,179.58 L515.66,179.22 L516.04,178.86 L516.43,178.49 L516.82,178.11 L517.20,177.73 L517.59,177.35 L517.97,176.97 L518.36,176.59 L518.74,176.22 L519.12,175.85 L519.51,175.50 L519.89,175.15 L520.28,174.82 L520.66,174.50 L521.05,174.21 L521.43,173.93 L521.82,173.66 L522.21,173.41 L522.59,173.17 L522.98,172.94 L523.36,172.72 L523.75,172.51 L524.13,172.30 L524.51,172.09 L524.90,171.89 L525.28,171.69 L525.67,171.48 L526.06,171.28 L526.44,171.07 L526.83,170.85 L527.21,170.63 L527.60,170.40 L527.98,170.15 L528.37,169.90 L528.75,169.63 L529.13,169.35 L529.52,169.05 L529.90,168.73 L530.29,168.41 L530.67,168.07 L531.06,167.71 L531.44,167.35 L531.83,166.98 L532.22,166.59 L532.60,166.19 L532.99,165.79 L533.37,165.38 L533.75,164.96 L534.14,164.53 L534.52,164.10 L534.91,163.66 L535.29,163.21 L535.68,162.76 L536.07,162.27 L536.45,161.74 L536.84,161.19 L537.22,160.61 L537.61,160.03 L537.99,159.44 L538.38,158.86 L538.76,158.30 L539.14,157.77 L539.53,157.27 L539.91,156.81 L540.30,156.41 L540.68,156.04 L541.07,155.69 L541.46,155.35 L541.84,155.03 L542.23,154.73 L542.61,154.44 L543.00,154.17 L543.38,153.92 L543.76,153.69 L544.15,153.47 L544.53,153.26 L544.92,153.04 L545.31,152.83 L545.69,152.65 L546.08,152.50 L546.46,152.42 L546.85,152.41 L547.23,152.48 L547.62,152.60 L548.00,152.78 L548.38,152.98 L548.77,153.21 L549.15,153.51 L549.54,153.94 L549.92,154.49 L550.31,155.11 L550.69,155.79 L551.08,156.49 L551.47,157.20 L551.85,157.88 L552.24,158.52 L552.62,159.16 L553.00,159.80 L553.39,160.46 L553.77,161.12 L554.16,161.80 L554.54,162.51 L554.93,163.25 L555.32,164.02 L555.70,164.84 L556.09,165.70 L556.47,166.63 L556.86,167.63 L557.24,168.69 L557.62,169.79 L558.01,170.94 L558.39,172.11 L558.78,173.30 L559.16,174.50 L559.55,175.79 L559.93,177.15 L560.32,178.54 L560.71,179.94 L561.09,181.31 L561.48,182.63 L561.86,183.86 L562.25,185.07 L562.63,186.27 L563.01,187.47 L563.40,188.64 L563.78,189.78 L564.17,190.88 L564.56,191.92 L564.94,192.88 L565.33,193.77 L565.71,194.56 L566.10,195.28 L566.48,195.97 L566.87,196.63 L567.25,197.25 L567.63,197.84 L568.02,198.39 L568.40,198.91 L568.79,199.40 L569.17,199.85 L569.56,200.27 L569.94,200.66 L570.33,201.03 L570.72,201.39 L571.10,201.72 L571.49,202.04 L571.87,202.34 L572.25,202.62 L572.64,202.87 L573.02,203.11 L573.41,203.32 L573.79,203.52 L574.18,203.72 L574.57,203.91 L574.95,204.09 L575.34,204.27 L575.72,204.43 L576.11,204.59 L576.49,204.73 L576.88,204.87 L577.26,204.98 L577.64,205.08 L578.03,205.17 L578.41,205.23 L578.80,205.29 L579.18,205.34 L579.57,205.39 L579.96,205.44 L580.34,205.48 L580.73,205.53 L581.11,205.57 L581.50,205.61 L581.88,205.65 L582.26,205.68 L582.65,205.72 L583.03,205.75 L583.42,205.78 L583.81,205.80 L584.19,205.82 L584.58,205.84 L584.96,205.86 L585.35,205.87 L585.73,205.89 L586.12,205.89 L586.50,205.90 L588.04,205.91 L589.58,205.93 L591.12,205.94 L592.66,205.95 L594.20,205.96 L595.74,205.97 L597.28,205.98 L598.82,205.99 L600.36,206.00 L601.90,206.01 L603.44,206.02 L604.98,206.03 L606.52,206.04 L608.06,206.05 L609.60,206.06 L611.14,206.06 L612.68,206.07 L614.22,206.08 L615.76,206.08 L617.30,206.09 L618.84,206.10 L620.38,206.10 L621.92,206.11 L623.46,206.11 L625.00,206.12 L626.54,206.12 L628.08,206.13 L629.62,206.13 L631.16,206.13 L632.70,206.14 L634.24,206.14 L635.78,206.14 L637.32,206.15 L638.86,206.15 L640.40,206.15 L641.94,206.15 L643.48,206.16 L645.02,206.16 L646.56,206.16 L648.10,206.16 L649.64,206.16 L651.18,206.16 L652.72,206.16 L654.26,206.16 L655.80,206.16 L657.34,206.16 L658.88,206.17 L660.42,206.17 L661.96,206.17 L663.50,206.17" fill="none" stroke="#1818d8" stroke-width="1.6" stroke-linejoin="round"/>
<path d="M394.00,196.83 L394.77,196.85 L395.54,196.90 L396.31,196.96 L397.08,197.04 L397.85,197.13 L398.62,197.23 L399.39,197.35 L400.16,197.52 L400.93,197.73 L401.70,197.94 L402.47,198.17 L403.24,198.38 L404.01,198.56 L404.78,198.73 L405.55,198.91 L406.32,199.09 L407.09,199.26 L407.86,199.42 L408.63,199.57 L409.40,199.70 L410.17,199.81 L410.94,199.90 L411.71,199.96 L412.48,200.02 L413.25,200.08 L414.02,200.14 L414.79,200.19 L415.56,200.24 L416.33,200.29 L417.10,200.34 L417.87,200.38 L418.64,200.42 L419.41,200.46 L420.18,200.50 L420.95,200.53 L421.72,200.57 L422.49,200.60 L423.26,200.63 L424.03,200.66 L424.80,200.69 L425.57,200.72 L426.34,200.75 L427.11,200.77 L427.88,200.80 L428.65,200.83 L429.42,200.85 L430.19,200.88 L430.96,200.91 L431.73,200.94 L432.50,200.96 L433.27,200.99 L434.04,201.02 L434.81,201.05 L435.58,201.08 L436.35,201.11 L437.12,201.14 L437.89,201.17 L438.66,201.20 L439.43,201.23 L440.20,201.26 L440.97,201.29 L441.74,201.32 L442.51,201.35 L443.28,201.38 L444.05,201.40 L444.82,201.43 L445.59,201.45 L446.36,201.48 L447.13,201.50 L447.90,201.52 L448.67,201.54 L449.44,201.56 L450.21,201.57 L450.98,201.59 L451.75,201.60 L452.52,201.61 L453.29,201.62 L454.06,201.63 L454.83,201.63 L455.60,201.63 L456.37,201.63 L457.14,201.63 L457.91,201.63 L458.68,201.62 L459.45,201.62 L460.22,201.62 L460.99,201.61 L461.76,201.60 L462.53,201.60 L463.30,201.59 L464.07,201.58 L464.84,201.57 L465.61,201.56 L466.38,201.55 L467.15,201.54 L467.92,201.52 L468.69,201.51 L469.46,201.49 L470.23,201.48 L471.00,201.46 L471.77,201.44 L472.54,201.42 L473.31,201.40 L474.08,201.38 L474.85,201.36 L475.62,201.34 L476.39,201.31 L477.16,201.29 L477.93,201.26 L478.70,201.23 L479.47,201.18 L480.24,201.10 L481.01,200.98 L481.78,200.84 L482.55,200.68 L483.32,200.49 L484.09,200.29 L484.86,200.08 L485.63,199.86 L486.40,199.63 L487.17,199.37 L487.94,199.05 L488.71,198.67 L489.48,198.27 L490.25,197.84 L491.02,197.41 L491.79,196.97 L492.56,196.56 L493.33,196.17 L494.10,195.82 L494.87,195.48 L495.64,195.16 L496.41,194.84 L497.18,194.53 L497.95,194.22 L498.72,193.91 L499.49,193.60 L500.26,193.30 L501.03,192.99 L501.80,192.67 L502.19,192.52 L502.57,192.35 L502.95,192.19 L503.34,192.03 L503.73,191.86 L504.11,191.69 L504.50,191.53 L504.88,191.36 L505.26,191.19 L505.65,191.02 L506.03,190.86 L506.42,190.69 L506.81,190.51 L507.19,190.34 L507.57,190.17 L507.96,189.99 L508.35,189.81 L508.73,189.63 L509.12,189.45 L509.50,189.26 L509.88,189.07 L510.27,188.88 L510.65,188.68 L511.04,188.48 L511.43,188.28 L511.81,188.08 L512.19,187.87 L512.58,187.66 L512.97,187.44 L513.35,187.23 L513.74,187.01 L514.12,186.79 L514.50,186.57 L514.89,186.34 L515.27,186.12 L515.66,185.89 L516.04,185.67 L516.43,185.44 L516.82,185.21 L517.20,184.98 L517.59,184.76 L517.97,184.53 L518.36,184.30 L518.74,184.07 L519.12,183.85 L519.51,183.62 L519.89,183.40 L520.28,183.18 L520.66,182.95 L521.05,182.72 L521.43,182.48 L521.82,182.24 L522.21,182.00 L522.59,181.75 L522.98,181.51 L523.36,181.26 L523.75,181.01 L524.13,180.76 L524.51,180.51 L524.90,180.26 L525.28,180.02 L525.67,179.78 L526.06,179.54 L526.44,179.31 L526.83,179.08 L527.21,178.86 L527.60,178.64 L527.98,178.43 L528.37,178.23 L528.75,178.04 L529.13,177.85 L529.52,177.68 L529.90,177.52 L530.29,177.36 L530.67,177.21 L531.06,177.06 L531.44,176.92 L531.83,176.78 L532.22,176.64 L532.60,176.51 L532.99,176.39 L533.37,176.27 L533.75,176.16 L534.14,176.06 L534.52,175.97 L534.91,175.88 L535.29,175.80 L535.68,175.72 L536.07,175.64 L536.45,175.56 L536.84,175.48 L537.22,175.41 L537.61,175.35 L537.99,175.30 L538.38,175.26 L538.76,175.23 L539.14,175.22 L539.53,175.23 L539.91,175.29 L540.30,175.39 L540.68,175.51 L541.07,175.67 L541.46,175.84 L541.84,176.03 L542.23,176.22 L542.61,176.42 L543.00,176.64 L543.38,176.92 L543.76,177.24 L544.15,177.59 L544.53,177.94 L544.92,178.29 L545.31,178.62 L545.69,178.94 L546.08,179.27 L546.46,179.60 L546.85,179.94 L547.23,180.28 L547.62,180.62 L548.00,180.98 L548.38,181.34 L548.77,181.70 L549.15,182.08 L549.54,182.47 L549.92,182.88 L550.31,183.31 L550.69,183.76 L551.08,184.22 L551.47,184.69 L551.85,185.17 L552.24,185.66 L552.62,186.15 L553.00,186.64 L553.39,187.12 L553.77,187.60 L554.16,188.06 L554.54,188.51 L554.93,188.95 L555.32,189.38 L555.70,189.80 L556.09,190.22 L556.47,190.63 L556.86,191.05 L557.24,191.46 L557.62,191.89 L558.01,192.32 L558.39,192.77 L558.78,193.23 L559.16,193.71 L559.55,194.21 L559.93,194.74 L560.32,195.27 L560.71,195.80 L561.09,196.32 L561.48,196.83 L561.86,197.31 L562.25,197.77 L562.63,198.22 L563.01,198.67 L563.40,199.11 L563.78,199.54 L564.17,199.95 L564.56,200.34 L564.94,200.71 L565.33,201.04 L565.71,201.35 L566.10,201.64 L566.48,201.92 L566.87,202.19 L567.25,202.44 L567.63,202.69 L568.02,202.92 L568.40,203.14 L568.79,203.34 L569.17,203.53 L569.56,203.70 L569.94,203.86 L570.33,204.02 L570.72,204.17 L571.10,204.32 L571.49,204.47 L571.87,204.60 L572.25,204.73 L572.64,204.85 L573.02,204.96 L573.41,205.05 L573.79,205.13 L574.18,205.19 L574.57,205.24 L574.95,205.28 L575.34,205.32 L575.72,205.35 L576.11,205.39 L576.49,205.42 L576.88,205.46 L577.26,205.49 L577.64,205.52 L578.03,205.55 L578.41,205.58 L578.80,205.61 L579.18,205.63 L579.57,205.66 L579.96,205.68 L580.34,205.70 L580.73,205.72 L581.11,205.74 L581.50,205.76 L581.88,205.78 L582.26,205.79 L582.65,205.81 L583.03,205.82 L583.42,205.84 L583.81,205.85 L584.19,205.86 L584.58,205.87 L584.96,205.88 L585.35,205.88 L585.73,205.89 L586.12,205.90 L586.50,205.90 L588.04,205.91 L589.58,205.92 L591.12,205.94 L592.66,205.95 L594.20,205.96 L595.74,205.97 L597.28,205.98 L598.82,205.99 L600.36,206.00 L601.90,206.01 L603.44,206.02 L604.98,206.03 L606.52,206.03 L608.06,206.04 L609.60,206.05 L611.14,206.06 L612.68,206.07 L614.22,206.07 L615.76,206.08 L617.30,206.09 L618.84,206.09 L620.38,206.10 L621.92,206.10 L623.46,206.11 L625.00,206.11 L626.54,206.12 L628.08,206.12 L629.62,206.13 L631.16,206.13 L632.70,206.13 L634.24,206.14 L635.78,206.14 L637.32,206.14 L638.86,206.15 L640.40,206.15 L641.94,206.15 L643.48,206.15 L645.02,206.16 L646.56,206.16 L648.10,206.16 L649.64,206.16 L651.18,206.16 L652.72,206.16 L654.26,206.16 L655.80,206.16 L657.34,206.16 L658.88,206.17 L660.42,206.17 L661.96,206.17 L663.50,206.17" fill="none" stroke="#008080" stroke-width="1.6" stroke-linejoin="round"/>
<path d="M394.00,198.83 L394.77,198.85 L395.54,198.88 L396.31,198.93 L397.08,198.98 L397.85,199.03 L398.62,199.09 L399.39,199.16 L400.16,199.23 L400.93,199.31 L401.70,199.42 L402.47,199.55 L403.24,199.69 L404.01,199.82 L404.78,199.95 L405.55,200.07 L406.32,200.16 L407.09,200.24 L407.86,200.31 L408.63,200.39 L409.40,200.45 L410.17,200.52 L410.94,200.58 L411.71,200.64 L412.48,200.69 L413.25,200.74 L414.02,200.79 L414.79,200.84 L415.56,200.88 L416.33,200.92 L417.10,200.96 L417.87,201.00 L418.64,201.03 L419.41,201.07 L420.18,201.10 L420.95,201.13 L421.72,201.16 L422.49,201.19 L423.26,201.22 L424.03,201.24 L424.80,201.27 L425.57,201.29 L426.34,201.32 L427.11,201.34 L427.88,201.36 L428.65,201.39 L429.42,201.41 L430.19,201.43 L430.96,201.45 L431.73,201.48 L432.50,201.50 L433.27,201.52 L434.04,201.54 L434.81,201.56 L435.58,201.59 L436.35,201.61 L437.12,201.64 L437.89,201.66 L438.66,201.68 L439.43,201.71 L440.20,201.73 L440.97,201.75 L441.74,201.78 L442.51,201.80 L443.28,201.82 L444.05,201.84 L444.82,201.87 L445.59,201.89 L446.36,201.90 L447.13,201.92 L447.90,201.94 L448.67,201.96 L449.44,201.97 L450.21,201.98 L450.98,202.00 L451.75,202.01 L452.52,202.01 L453.29,202.02 L454.06,202.03 L454.83,202.03 L455.60,202.03 L456.37,202.03 L457.14,202.03 L457.91,202.03 L458.68,202.02 L459.45,202.02 L460.22,202.01 L460.99,202.00 L461.76,201.99 L462.53,201.99 L463.30,201.97 L464.07,201.96 L464.84,201.95 L465.61,201.94 L466.38,201.92 L467.15,201.90 L467.92,201.89 L468.69,201.87 L469.46,201.85 L470.23,201.82 L471.00,201.80 L471.77,201.78 L472.54,201.75 L473.31,201.72 L474.08,201.70 L474.85,201.67 L475.62,201.63 L476.39,201.60 L477.16,201.57 L477.93,201.53 L478.70,201.50 L479.47,201.44 L480.24,201.34 L481.01,201.21 L481.78,201.05 L482.55,200.88 L483.32,200.69 L484.09,200.50 L484.86,200.31 L485.63,200.13 L486.40,199.94 L487.17,199.75 L487.94,199.55 L488.71,199.34 L489.48,199.13 L490.25,198.91 L491.02,198.68 L491.79,198.46 L492.56,198.22 L493.33,197.99 L494.10,197.75 L494.87,197.50 L495.64,197.24 L496.41,196.97 L497.18,196.69 L497.95,196.41 L498.72,196.12 L499.49,195.84 L500.26,195.57 L501.03,195.30 L501.80,195.04 L502.19,194.91 L502.57,194.79 L502.95,194.67 L503.34,194.56 L503.73,194.45 L504.11,194.34 L504.50,194.23 L504.88,194.12 L505.26,194.01 L505.65,193.91 L506.03,193.80 L506.42,193.70 L506.81,193.60 L507.19,193.50 L507.57,193.40 L507.96,193.31 L508.35,193.21 L508.73,193.12 L509.12,193.04 L509.50,192.95 L509.88,192.87 L510.27,192.79 L510.65,192.72 L511.04,192.64 L511.43,192.57 L511.81,192.50 L512.19,192.43 L512.58,192.36 L512.97,192.30 L513.35,192.23 L513.74,192.17 L514.12,192.10 L514.50,192.04 L514.89,191.98 L515.27,191.92 L515.66,191.86 L516.04,191.80 L516.43,191.74 L516.82,191.69 L517.20,191.63 L517.59,191.57 L517.97,191.52 L518.36,191.46 L518.74,191.40 L519.12,191.35 L519.51,191.29 L519.89,191.24 L520.28,191.18 L520.66,191.12 L521.05,191.07 L521.43,191.01 L521.82,190.95 L522.21,190.90 L522.59,190.84 L522.98,190.79 L523.36,190.74 L523.75,190.69 L524.13,190.64 L524.51,190.60 L524.90,190.56 L525.28,190.52 L525.67,190.47 L526.06,190.43 L526.44,190.38 L526.83,190.34 L527.21,190.30 L527.60,190.26 L527.98,190.23 L528.37,190.20 L528.75,190.18 L529.13,190.16 L529.52,190.16 L529.90,190.16 L530.29,190.18 L530.67,190.20 L531.06,190.23 L531.44,190.28 L531.83,190.32 L532.22,190.38 L532.60,190.43 L532.99,190.50 L533.37,190.56 L533.75,190.64 L534.14,190.74 L534.52,190.86 L534.91,191.00 L535.29,191.15 L535.68,191.31 L536.07,191.47 L536.45,191.63 L536.84,191.79 L537.22,191.95 L537.61,192.13 L537.99,192.32 L538.38,192.51 L538.76,192.70 L539.14,192.90 L539.53,193.10 L539.91,193.30 L540.30,193.49 L540.68,193.69 L541.07,193.89 L541.46,194.10 L541.84,194.30 L542.23,194.51 L542.61,194.72 L543.00,194.92 L543.38,195.13 L543.76,195.33 L544.15,195.53 L544.53,195.74 L544.92,195.94 L545.31,196.15 L545.69,196.36 L546.08,196.57 L546.46,196.78 L546.85,197.00 L547.23,197.21 L547.62,197.42 L548.00,197.62 L548.38,197.83 L548.77,198.03 L549.15,198.22 L549.54,198.41 L549.92,198.59 L550.31,198.77 L550.69,198.94 L551.08,199.10 L551.47,199.25 L551.85,199.39 L552.24,199.52 L552.62,199.65 L553.00,199.78 L553.39,199.90 L553.77,200.02 L554.16,200.13 L554.54,200.24 L554.93,200.35 L555.32,200.45 L555.70,200.55 L556.09,200.65 L556.47,200.75 L556.86,200.85 L557.24,200.95 L557.62,201.04 L558.01,201.14 L558.39,201.23 L558.78,201.33 L559.16,201.42 L559.55,201.52 L559.93,201.62 L560.32,201.72 L560.71,201.83 L561.09,201.93 L561.48,202.03 L561.86,202.13 L562.25,202.23 L562.63,202.33 L563.01,202.42 L563.40,202.52 L563.78,202.62 L564.17,202.72 L564.56,202.82 L564.94,202.92 L565.33,203.01 L565.71,203.11 L566.10,203.21 L566.48,203.31 L566.87,203.42 L567.25,203.52 L567.63,203.63 L568.02,203.74 L568.40,203.86 L568.79,203.99 L569.17,204.12 L569.56,204.25 L569.94,204.38 L570.33,204.50 L570.72,204.62 L571.10,204.74 L571.49,204.85 L571.87,204.95 L572.25,205.04 L572.64,205.11 L573.02,205.18 L573.41,205.22 L573.79,205.26 L574.18,205.30 L574.57,205.33 L574.95,205.36 L575.34,205.39 L575.72,205.43 L576.11,205.46 L576.49,205.48 L576.88,205.51 L577.26,205.54 L577.64,205.57 L578.03,205.59 L578.41,205.62 L578.80,205.64 L579.18,205.66 L579.57,205.68 L579.96,205.70 L580.34,205.72 L580.73,205.74 L581.11,205.76 L581.50,205.77 L581.88,205.79 L582.26,205.80 L582.65,205.82 L583.03,205.83 L583.42,205.84 L583.81,205.85 L584.19,205.86 L584.58,205.87 L584.96,205.88 L585.35,205.89 L585.73,205.89 L586.12,205.90 L586.50,205.90 L588.04,205.91 L589.58,205.92 L591.12,205.94 L592.66,205.95 L594.20,205.96 L595.74,205.97 L597.28,205.98 L598.82,205.99 L600.36,206.00 L601.90,206.01 L603.44,206.02 L604.98,206.03 L606.52,206.03 L608.06,206.04 L609.60,206.05 L611.14,206.06 L612.68,206.06 L614.22,206.07 L615.76,206.08 L617.30,206.08 L618.84,206.09 L620.38,206.10 L621.92,206.10 L623.46,206.11 L625.00,206.11 L626.54,206.12 L628.08,206.12 L629.62,206.12 L631.16,206.13 L632.70,206.13 L634.24,206.14 L635.78,206.14 L637.32,206.14 L638.86,206.15 L640.40,206.15 L641.94,206.15 L643.48,206.15 L645.02,206.15 L646.56,206.16 L648.10,206.16 L649.64,206.16 L651.18,206.16 L652.72,206.16 L654.26,206.16 L655.80,206.16 L657.34,206.16 L658.88,206.17 L660.42,206.17 L661.96,206.17 L663.50,206.17" fill="none" stroke="#ff00ff" stroke-width="1.6" stroke-linejoin="round"/>
<path d="M394.00,202.43 L394.77,202.46 L395.54,202.48 L396.31,202.51 L397.08,202.54 L397.85,202.57 L398.62,202.60 L399.39,202.63 L400.16,202.66 L400.93,202.69 L401.70,202.73 L402.47,202.76 L403.24,202.80 L404.01,202.83 L404.78,202.87 L405.55,202.91 L406.32,202.95 L407.09,202.99 L407.86,203.04 L408.63,203.08 L409.40,203.13 L410.17,203.17 L410.94,203.22 L411.71,203.26 L412.48,203.30 L413.25,203.33 L414.02,203.36 L414.79,203.39 L415.56,203.42 L416.33,203.45 L417.10,203.48 L417.87,203.50 L418.64,203.53 L419.41,203.55 L420.18,203.58 L420.95,203.60 L421.72,203.63 L422.49,203.65 L423.26,203.67 L424.03,203.69 L424.80,203.71 L425.57,203.73 L426.34,203.75 L427.11,203.77 L427.88,203.79 L428.65,203.81 L429.42,203.83 L430.19,203.85 L430.96,203.86 L431.73,203.88 L432.50,203.90 L433.27,203.92 L434.04,203.93 L434.81,203.95 L435.58,203.97 L436.35,203.99 L437.12,204.00 L437.89,204.02 L438.66,204.04 L439.43,204.06 L440.20,204.08 L440.97,204.09 L441.74,204.11 L442.51,204.13 L443.28,204.15 L444.05,204.16 L444.82,204.18 L445.59,204.19 L446.36,204.21 L447.13,204.22 L447.90,204.23 L448.67,204.24 L449.44,204.25 L450.21,204.26 L450.98,204.27 L451.75,204.28 L452.52,204.29 L453.29,204.29 L454.06,204.30 L454.83,204.30 L455.60,204.30 L456.37,204.30 L457.14,204.30 L457.91,204.30 L458.68,204.30 L459.45,204.29 L460.22,204.29 L460.99,204.29 L461.76,204.29 L462.53,204.28 L463.30,204.28 L464.07,204.28 L464.84,204.27 L465.61,204.27 L466.38,204.27 L467.15,204.26 L467.92,204.26 L468.69,204.25 L469.46,204.25 L470.23,204.24 L471.00,204.23 L471.77,204.23 L472.54,204.22 L473.31,204.22 L474.08,204.21 L474.85,204.20 L475.62,204.20 L476.39,204.19 L477.16,204.18 L477.93,204.17 L478.70,204.16 L479.47,204.16 L480.24,204.14 L481.01,204.13 L481.78,204.11 L482.55,204.09 L483.32,204.07 L484.09,204.04 L484.86,204.02 L485.63,203.99 L486.40,203.96 L487.17,203.92 L487.94,203.89 L488.71,203.85 L489.48,203.82 L490.25,203.78 L491.02,203.74 L491.79,203.69 L492.56,203.65 L493.33,203.61 L494.10,203.56 L494.87,203.52 L495.64,203.47 L496.41,203.43 L497.18,203.38 L497.95,203.33 L498.72,203.29 L499.49,203.24 L500.26,203.19 L501.03,203.14 L501.80,203.10 L502.19,203.07 L502.57,203.05 L502.95,203.02 L503.34,202.99 L503.73,202.97 L504.11,202.94 L504.50,202.91 L504.88,202.87 L505.26,202.84 L505.65,202.81 L506.03,202.78 L506.42,202.74 L506.81,202.71 L507.19,202.68 L507.57,202.64 L507.96,202.61 L508.35,202.57 L508.73,202.54 L509.12,202.50 L509.50,202.47 L509.88,202.44 L510.27,202.40 L510.65,202.37 L511.04,202.34 L511.43,202.31 L511.81,202.28 L512.19,202.25 L512.58,202.22 L512.97,202.19 L513.35,202.16 L513.74,202.14 L514.12,202.11 L514.50,202.08 L514.89,202.05 L515.27,202.02 L515.66,201.98 L516.04,201.95 L516.43,201.92 L516.82,201.90 L517.20,201.87 L517.59,201.84 L517.97,201.82 L518.36,201.80 L518.74,201.79 L519.12,201.78 L519.51,201.77 L519.89,201.76 L520.28,201.76 L520.66,201.77 L521.05,201.78 L521.43,201.78 L521.82,201.80 L522.21,201.81 L522.59,201.83 L522.98,201.84 L523.36,201.86 L523.75,201.88 L524.13,201.90 L524.51,201.92 L524.90,201.94 L525.28,201.97 L525.67,201.99 L526.06,202.01 L526.44,202.03 L526.83,202.05 L527.21,202.08 L527.60,202.10 L527.98,202.13 L528.37,202.15 L528.75,202.18 L529.13,202.21 L529.52,202.24 L529.90,202.27 L530.29,202.31 L530.67,202.34 L531.06,202.37 L531.44,202.41 L531.83,202.44 L532.22,202.48 L532.60,202.51 L532.99,202.55 L533.37,202.59 L533.75,202.62 L534.14,202.66 L534.52,202.70 L534.91,202.74 L535.29,202.77 L535.68,202.81 L536.07,202.86 L536.45,202.90 L536.84,202.94 L537.22,202.99 L537.61,203.03 L537.99,203.08 L538.38,203.13 L538.76,203.18 L539.14,203.22 L539.53,203.27 L539.91,203.32 L540.30,203.37 L540.68,203.42 L541.07,203.47 L541.46,203.53 L541.84,203.58 L542.23,203.63 L542.61,203.68 L543.00,203.73 L543.38,203.78 L543.76,203.83 L544.15,203.88 L544.53,203.93 L544.92,203.98 L545.31,204.02 L545.69,204.07 L546.08,204.12 L546.46,204.16 L546.85,204.21 L547.23,204.25 L547.62,204.30 L548.00,204.34 L548.38,204.38 L548.77,204.42 L549.15,204.45 L549.54,204.49 L549.92,204.53 L550.31,204.57 L550.69,204.60 L551.08,204.64 L551.47,204.68 L551.85,204.71 L552.24,204.75 L552.62,204.78 L553.00,204.82 L553.39,204.85 L553.77,204.89 L554.16,204.92 L554.54,204.96 L554.93,204.99 L555.32,205.02 L555.70,205.05 L556.09,205.09 L556.47,205.12 L556.86,205.15 L557.24,205.18 L557.62,205.21 L558.01,205.24 L558.39,205.27 L558.78,205.30 L559.16,205.33 L559.55,205.36 L559.93,205.39 L560.32,205.42 L560.71,205.45 L561.09,205.48 L561.48,205.50 L561.86,205.53 L562.25,205.56 L562.63,205.58 L563.01,205.61 L563.40,205.63 L563.78,205.66 L564.17,205.68 L564.56,205.71 L564.94,205.73 L565.33,205.76 L565.71,205.78 L566.10,205.80 L566.48,205.83 L566.87,205.85 L567.25,205.88 L567.63,205.90 L568.02,205.92 L568.40,205.95 L568.79,205.97 L569.17,205.99 L569.56,206.02 L569.94,206.04 L570.33,206.06 L570.72,206.08 L571.10,206.10 L571.49,206.13 L571.87,206.15 L572.25,206.17 L572.64,206.19 L573.02,206.21 L573.41,206.22 L573.79,206.24 L574.18,206.26 L574.57,206.28 L574.95,206.30 L575.34,206.31 L575.72,206.33 L576.11,206.34 L576.49,206.36 L576.88,206.37 L577.26,206.39 L577.64,206.40 L578.03,206.41 L578.41,206.42 L578.80,206.43 L579.18,206.44 L579.57,206.45 L579.96,206.46 L580.34,206.47 L580.73,206.48 L581.11,206.49 L581.50,206.50 L581.88,206.51 L582.26,206.52 L582.65,206.53 L583.03,206.54 L583.42,206.55 L583.81,206.56 L584.19,206.57 L584.58,206.57 L584.96,206.58 L585.35,206.59 L585.73,206.60 L586.12,206.61 L586.50,206.62 L588.04,206.65 L589.58,206.67 L591.12,206.70 L592.66,206.73 L594.20,206.75 L595.74,206.77 L597.28,206.79 L598.82,206.81 L600.36,206.82 L601.90,206.83 L603.44,206.84 L604.98,206.86 L606.52,206.87 L608.06,206.88 L609.60,206.89 L611.14,206.90 L612.68,206.91 L614.22,206.92 L615.76,206.93 L617.30,206.94 L618.84,206.95 L620.38,206.96 L621.92,206.97 L623.46,206.98 L625.00,206.99 L626.54,206.99 L628.08,207.00 L629.62,207.01 L631.16,207.02 L632.70,207.02 L634.24,207.03 L635.78,207.04 L637.32,207.04 L638.86,207.05 L640.40,207.06 L641.94,207.06 L643.48,207.07 L645.02,207.07 L646.56,207.08 L648.10,207.08 L649.64,207.08 L651.18,207.09 L652.72,207.09 L654.26,207.09 L655.80,207.09 L657.34,207.10 L658.88,207.10 L660.42,207.10 L661.96,207.10 L663.50,207.10" fill="none" stroke="#808000" stroke-width="1.6" stroke-linejoin="round"/>
</g>
<line x1="414" y1="38.4" x2="414" y2="138" stroke="#000" stroke-width="1.2"/>
<path d="M414,147 L410.9,135 L417.1,135Z" fill="#000"/>
<line x1="421.9" y1="45.2" x2="449.8" y2="45.2" stroke="#000080" stroke-width="1.7"/>
<text x="452.80" y="49.40" font-size="12.2" text-anchor="start" >Dark absorption</text>
<line x1="421.9" y1="60.1" x2="449.8" y2="60.1" stroke="#000000" stroke-width="1.7"/>
<text x="452.80" y="64.30" font-size="12.2" text-anchor="start" >Light on</text>
<line x1="421.9" y1="75" x2="449.8" y2="75" stroke="#f02828" stroke-width="1.7"/>
<text x="452.80" y="79.20" font-size="12.2" text-anchor="start" >1h</text>
<line x1="421.9" y1="89.6" x2="449.8" y2="89.6" stroke="#1818d8" stroke-width="1.7"/>
<text x="452.80" y="93.80" font-size="12.2" text-anchor="start" >2h</text>
<line x1="421.9" y1="104.5" x2="449.8" y2="104.5" stroke="#008080" stroke-width="1.7"/>
<text x="452.80" y="108.70" font-size="12.2" text-anchor="start" >3h</text>
<line x1="421.9" y1="119.5" x2="449.8" y2="119.5" stroke="#ff00ff" stroke-width="1.7"/>
<text x="452.80" y="123.70" font-size="12.2" text-anchor="start" >4h</text>
<line x1="421.9" y1="134.5" x2="449.8" y2="134.5" stroke="#808000" stroke-width="1.7"/>
<text x="452.80" y="138.70" font-size="12.2" text-anchor="start" >5h</text>
<text x="558.30" y="28.80" font-size="11" text-anchor="middle" >553 nm</text>
<text x="487.50" y="172.90" font-size="11" text-anchor="middle" >510 nm</text>
<line x1="492.5" y1="175.3" x2="513" y2="194.8" stroke="#000" stroke-width="1.1"/>
<path d="M516.2,197.8 L509.8,194.6 L513.4,190.8Z" fill="#000"/>
</svg>
</body></html>
